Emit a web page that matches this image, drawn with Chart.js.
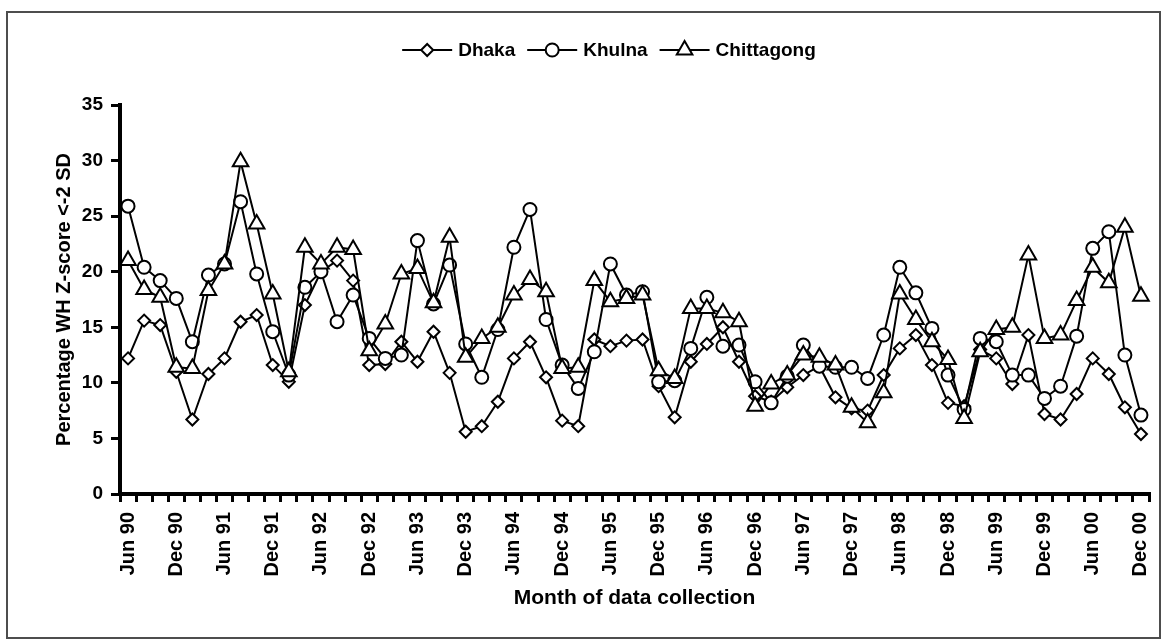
<!DOCTYPE html>
<html>
<head>
<meta charset="utf-8">
<title>Percentage WH Z-score &lt;-2 SD by month</title>
<script src="https://cdn.jsdelivr.net/npm/chart.js@4.4.1/dist/chart.umd.min.js"></script>
<style>
  html, body { margin: 0; padding: 0; background: #fff; }
  #wrap { position: relative; width: 1168px; height: 641px; }
  #frame {
    position: absolute; left: 6px; top: 11px; width: 1155px; height: 628px;
    border: 2px solid #4d4d4d; box-sizing: border-box; pointer-events: none;
  }
</style>
</head>
<body>
<div id="wrap">
  <canvas id="chart"></canvas>
  <div id="frame"></div>
</div>
<script>
// Survey rounds, every second month
const months = [
  'Jun 90', 'Aug 90', 'Oct 90', 'Dec 90',
  'Feb 91', 'Apr 91', 'Jun 91', 'Aug 91', 'Oct 91', 'Dec 91',
  'Feb 92', 'Apr 92', 'Jun 92', 'Aug 92', 'Oct 92', 'Dec 92',
  'Feb 93', 'Apr 93', 'Jun 93', 'Aug 93', 'Oct 93', 'Dec 93',
  'Feb 94', 'Apr 94', 'Jun 94', 'Aug 94', 'Oct 94', 'Dec 94',
  'Feb 95', 'Apr 95', 'Jun 95', 'Aug 95', 'Oct 95', 'Dec 95',
  'Feb 96', 'Apr 96', 'Jun 96', 'Aug 96', 'Oct 96', 'Dec 96',
  'Feb 97', 'Apr 97', 'Jun 97', 'Aug 97', 'Oct 97', 'Dec 97',
  'Feb 98', 'Apr 98', 'Jun 98', 'Aug 98', 'Oct 98', 'Dec 98',
  'Feb 99', 'Apr 99', 'Jun 99', 'Aug 99', 'Oct 99', 'Dec 99',
  'Feb 00', 'Apr 00', 'Jun 00', 'Aug 00', 'Oct 00', 'Dec 00'
];

// % of children with weight-for-height Z-score below -2 SD
const dhaka = [
  12.2, 15.6, 15.2, 11.0, 6.7, 10.8, 12.2, 15.5, 16.1, 11.6,
  10.1, 17.0, 20.0, 21.0, 19.2, 11.6, 11.7, 13.7, 11.9, 14.6,
  10.9, 5.6, 6.1, 8.3, 12.2, 13.7, 10.5, 6.6, 6.1, 13.9,
  13.3, 13.8, 13.9, 9.7, 6.9, 11.9, 13.5, 15.0, 11.9, 8.8,
  8.3, 9.6, 10.7, 11.5, 8.7, 7.7, 7.5, 10.7, 13.1, 14.3,
  11.6, 8.2, 7.9, 13.0, 12.2, 9.9, 14.3, 7.2, 6.7, 9.0,
  12.2, 10.8, 7.8, 5.4
];
const khulna = [
  25.9, 20.4, 19.2, 17.6, 13.7, 19.7, 20.7, 26.3, 19.8, 14.6,
  10.7, 18.6, 20.0, 15.5, 17.9, 14.0, 12.2, 12.5, 22.8, 17.1,
  20.6, 13.5, 10.5, 14.8, 22.2, 25.6, 15.7, 11.6, 9.5, 12.8,
  20.7, 17.9, 18.2, 10.1, 10.2, 13.1, 17.7, 13.3, 13.4, 10.1,
  8.2, 10.6, 13.4, 11.5, 11.4, 11.4, 10.4, 14.3, 20.4, 18.1,
  14.9, 10.7, 7.6, 14.0, 13.7, 10.7, 10.7, 8.6, 9.7, 14.2,
  22.1, 23.6, 12.5, 7.1
];
const chittagong = [
  21.0, 18.4, 17.7, 11.4, 11.3, 18.3, 20.7, 29.9, 24.3, 18.0,
  11.0, 22.2, 20.7, 22.2, 22.0, 12.9, 15.3, 19.8, 20.3, 17.2,
  23.1, 12.3, 14.0, 15.0, 17.9, 19.3, 18.2, 11.3, 11.4, 19.2,
  17.3, 17.6, 17.9, 11.1, 10.4, 16.7, 16.7, 16.3, 15.5, 7.9,
  9.9, 10.7, 12.5, 12.3, 11.6, 7.8, 6.4, 9.1, 18.0, 15.7,
  13.7, 12.1, 6.8, 12.8, 14.8, 15.0, 21.5, 14.0, 14.3, 17.4,
  20.4, 19.0, 24.0, 17.8
];

const FONT = 'Arial, "Liberation Sans", Helvetica, sans-serif';

function series(label, data, pointStyle, radius, order) {
  return {
    label, data, pointStyle, order,
    pointRadius: radius,
    pointHoverRadius: radius,
    borderColor: '#000',
    borderWidth: 2,
    pointBackgroundColor: '#fff',
    pointBorderColor: '#000',
    pointBorderWidth: 2,
    tension: 0,
    fill: false
  };
}

// Legend with a short line through each marker, like the series themselves
const lineLegend = {
  id: 'lineLegend',
  afterDraw(chart, args, opts) {
    const ctx = chart.ctx;
    ctx.save();
    ctx.font = opts.font;
    const items = chart.data.datasets.map(ds => ({ ds, w: ctx.measureText(ds.label).width }));
    const total = items.reduce((s, it) => s + opts.lineLength + opts.textGap + it.w, 0)
      + opts.itemGap * (items.length - 1);
    let x = opts.centerX - total / 2;
    const y = opts.y;
    items.forEach(({ ds, w }) => {
      ctx.strokeStyle = ds.borderColor;
      ctx.lineWidth = ds.borderWidth;
      ctx.beginPath();
      ctx.moveTo(x, y);
      ctx.lineTo(x + opts.lineLength, y);
      ctx.stroke();

      ctx.fillStyle = ds.pointBackgroundColor;
      ctx.strokeStyle = ds.pointBorderColor;
      ctx.lineWidth = ds.pointBorderWidth;
      Chart.helpers.drawPoint(ctx, {
        pointStyle: ds.pointStyle, radius: ds.pointRadius, rotation: 0, borderWidth: ds.pointBorderWidth
      }, x + opts.lineLength / 2, y);

      ctx.fillStyle = '#000';
      ctx.textAlign = 'left';
      ctx.textBaseline = 'middle';
      ctx.fillText(ds.label, x + opts.lineLength + opts.textGap, y + 1);
      x += opts.lineLength + opts.textGap + w + opts.itemGap;
    });
    ctx.restore();
  }
};

new Chart(document.getElementById('chart'), {
  type: 'line',
  data: {
    labels: months,
    datasets: [
      series('Dhaka', dhaka, 'rectRot', 6, 3),
      series('Khulna', khulna, 'circle', 6.5, 2),
      series('Chittagong', chittagong, 'triangle', 9, 1)
    ]
  },
  plugins: [lineLegend],
  options: {
    responsive: true,
    maintainAspectRatio: false,
    animation: false,
    layout: { padding: { top: 105, right: 19, bottom: 30, left: 49 } },
    plugins: {
      legend: { display: false },
      tooltip: { enabled: false },
      lineLegend: {
        font: 'bold 19px ' + FONT,
        centerX: 609,
        y: 50,
        lineLength: 50,
        textGap: 6,
        itemGap: 12
      }
    },
    scales: {
      x: {
        offset: true,
        grid: { offset: true, drawOnChartArea: false, tickLength: 8, lineWidth: 3, color: '#000' },
        border: { color: '#000', width: 4 },
        ticks: {
          autoSkip: false,
          minRotation: 90,
          maxRotation: 90,
          padding: 10,
          color: '#000',
          font: { family: FONT, size: 20, weight: 'bold' },
          callback: (value, index) => (index % 3 === 0 ? months[index] : '')
        },
        title: {
          display: true,
          text: 'Month of data collection',
          color: '#000',
          font: { family: FONT, size: 21, weight: 'bold' },
          padding: { top: 14, bottom: 0 }
        },
        // fixed axis band so the plot keeps its place
        afterFit(scale) {
          scale.height = 117;
          scale.paddingLeft = 0;
          scale.paddingRight = 0;
        }
      },
      y: {
        min: 0,
        max: 35,
        grid: { drawOnChartArea: false, tickLength: 9, lineWidth: 3, color: '#000' },
        border: { color: '#000', width: 4 },
        ticks: {
          stepSize: 5,
          padding: 8,
          color: '#000',
          font: { family: FONT, size: 19, weight: 'bold' }
        },
        title: {
          display: true,
          text: 'Percentage WH Z-score <-2 SD',
          color: '#000',
          font: { family: FONT, size: 20, weight: 'bold' },
          padding: { top: 3, bottom: 6 }
        },
        afterFit(scale) {
          scale.width = 71;
        }
      }
    }
  }
});
</script>
</body>
</html>
